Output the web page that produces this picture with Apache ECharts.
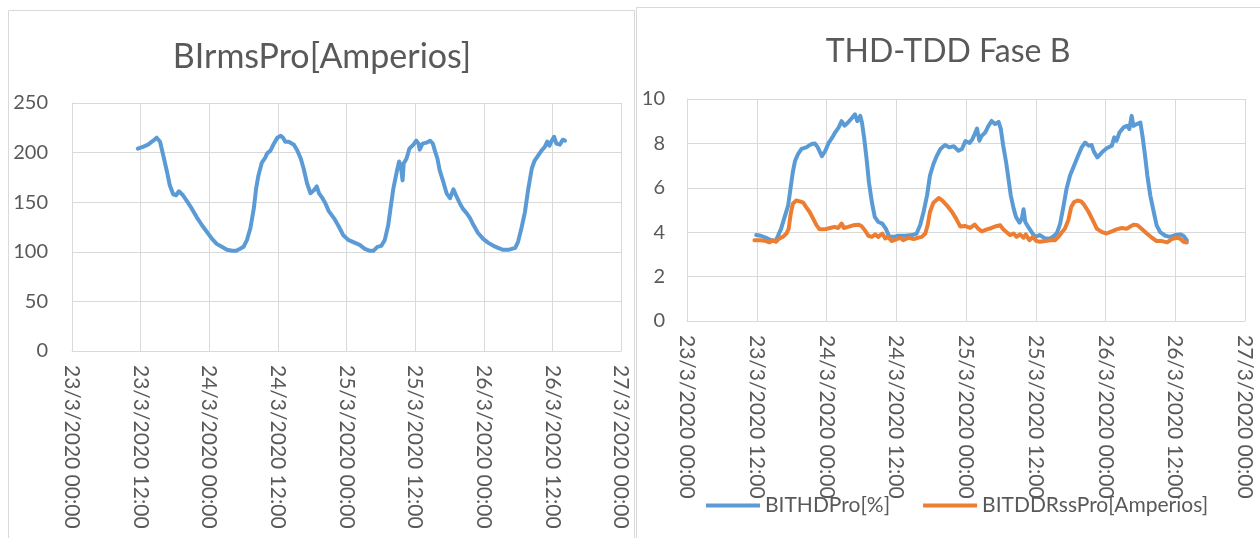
<!DOCTYPE html>
<html>
<head>
<meta charset="utf-8">
<script src="https://cdn.jsdelivr.net/npm/echarts@6/dist/echarts.min.js"></script>
<style>
  html, body { margin: 0; padding: 0; background: #ffffff; }
  #chart { width: 1260px; height: 538px; }
</style>
</head>
<body>
<div id="chart"></div>
<script>
// Tick labels for the shared time axis (one every 12 hours from 23/3/2020 00:00)
const tickLabels = [
  '23/3/2020 00:00', '23/3/2020 12:00', '24/3/2020 00:00', '24/3/2020 12:00',
  '25/3/2020 00:00', '25/3/2020 12:00', '26/3/2020 00:00', '26/3/2020 12:00',
  '27/3/2020 00:00'
];

// Phase B RMS current [A]: [hours since 23/3/2020 00:00, value]
const irmsSeries = [
  [11.5,204],[12.5,206],[13.3,208],[14.2,212],[14.8,215],[15.4,211],[16.0,196],[16.6,181],
  [17.1,167],[17.7,158],[18.2,157],[18.7,161],[19.4,157],[20.1,151],[20.9,144],[21.8,135],
  [22.7,127],[23.6,120],[24.5,113],[25.3,108],[26.2,105],[27.1,102],[28.0,101],[28.7,101],
  [29.4,103],[30.0,105],[30.6,112],[31.2,124],[31.8,144],[32.2,164],[32.6,177],[33.2,190],
  [33.8,195],[34.1,199],[34.7,202],[35.3,209],[35.9,215],[36.5,217],[36.9,215],[37.3,211],
  [37.9,211],[38.8,208],[39.4,202],[40.0,194],[40.5,184],[41.1,169],[41.7,159],[42.3,162],
  [42.8,166],[43.2,159],[43.8,154],[44.3,149],[44.9,141],[45.8,134],[46.7,125],[47.4,117],
  [48.3,112],[49.5,109],[50.3,107],[51.2,103],[52.1,101],[52.7,101],[53.4,105],[54.1,106],
  [54.7,112],[55.3,127],[55.7,144],[56.2,164],[56.8,181],[57.2,191],[57.5,187],[57.8,172],
  [58.0,189],[58.5,194],[59.0,204],[59.7,208],[60.2,212],[60.6,209],[60.8,203],[61.3,209],
  [62.0,210],[62.6,212],[63.1,209],[63.5,201],[63.9,194],[64.3,182],[64.9,171],[65.5,159],
  [66.1,154],[66.7,163],[67.3,155],[67.8,149],[68.4,143],[69.0,139],[69.6,134],[70.2,127],
  [71.0,119],[71.9,113],[72.8,109],[73.7,106],[74.5,104],[75.4,102],[76.3,102],[76.9,103],
  [77.5,104],[78.0,110],[78.6,124],[79.2,140],[79.8,164],[80.4,184],[80.9,192],[81.5,197],
  [82.1,202],[82.7,206],[83.1,211],[83.5,207],[83.9,212],[84.3,216],[84.7,209],[85.3,208],
  [85.8,213],[86.2,212]
];

// THD of phase B current [%]
const thdSeries = [
  [11.9,3.87],[12.7,3.84],[13.6,3.75],[14.5,3.64],[15.2,3.60],[15.6,3.80],[16.2,4.16],[16.8,4.69],
  [17.4,5.20],[17.8,5.96],[18.2,6.70],[18.6,7.22],[19.1,7.52],[19.7,7.75],[20.5,7.82],[21.4,7.97],
  [22.0,8.00],[22.5,7.82],[23.2,7.42],[23.8,7.67],[24.4,8.04],[25.0,8.27],[25.5,8.50],[26.1,8.72],
  [26.6,9.00],[27.1,8.80],[27.7,8.94],[28.3,9.12],[28.9,9.31],[29.3,9.00],[29.8,9.24],[30.1,8.94],
  [30.5,8.20],[30.9,7.30],[31.3,6.25],[31.8,5.36],[32.3,4.69],[32.9,4.46],[33.6,4.39],[34.2,4.16],
  [34.8,3.79],[35.5,3.79],[36.4,3.84],[37.5,3.84],[38.7,3.87],[39.5,3.94],[40.1,4.31],[40.7,4.91],
  [41.3,5.66],[41.8,6.55],[42.4,7.07],[43.0,7.45],[43.6,7.75],[44.4,7.93],[45.1,7.82],[45.9,7.87],
  [46.7,7.67],[47.3,7.75],[47.9,8.10],[48.6,8.02],[49.1,8.19],[49.5,8.42],[49.9,8.67],[50.3,8.12],
  [50.7,8.34],[51.3,8.49],[51.8,8.76],[52.4,9.01],[53.0,8.87],[53.6,8.97],[54.0,8.64],[54.4,7.90],
  [54.9,7.15],[55.3,6.42],[55.7,5.66],[56.2,5.06],[56.6,4.69],[57.2,4.43],[57.6,4.61],[57.9,5.03],
  [58.2,4.46],[58.7,4.24],[59.3,4.00],[59.9,3.79],[60.7,3.87],[61.6,3.72],[62.5,3.72],[63.2,3.84],
  [63.7,4.00],[64.2,4.39],[64.8,5.21],[65.3,5.96],[65.9,6.55],[66.6,7.00],[67.3,7.45],[67.9,7.82],
  [68.5,8.04],[69.1,7.90],[69.6,7.93],[70.0,7.63],[70.6,7.37],[71.4,7.60],[72.2,7.78],[73.1,7.90],
  [73.5,8.27],[73.9,8.12],[74.4,8.49],[75.1,8.72],[75.7,8.79],[76.1,8.64],[76.5,9.24],[76.8,8.79],
  [77.4,8.87],[78.0,8.94],[78.4,8.27],[78.8,7.45],[79.2,6.55],[79.7,5.66],[80.3,4.91],[80.8,4.31],
  [81.4,4.00],[82.3,3.84],[83.1,3.79],[84.0,3.87],[84.9,3.90],[85.4,3.84],[86.0,3.64]
];

// TDD of phase B current [A]
const tddSeries = [
  [11.6,3.64],[12.7,3.64],[13.6,3.60],[14.2,3.54],[14.8,3.64],[15.3,3.57],[15.9,3.72],[16.5,3.79],
  [17.1,3.94],[17.5,4.16],[17.8,4.76],[18.2,5.28],[18.8,5.43],[19.4,5.39],[20.0,5.33],[20.5,5.13],
  [21.1,4.91],[21.7,4.61],[22.3,4.31],[22.8,4.13],[23.7,4.13],[24.6,4.19],[25.4,4.24],[26.0,4.19],
  [26.6,4.39],[27.0,4.19],[27.7,4.24],[28.6,4.31],[29.5,4.34],[30.0,4.28],[30.6,4.09],[31.2,3.84],
  [31.8,3.79],[32.4,3.90],[32.9,3.79],[33.6,3.94],[34.1,3.72],[34.6,3.79],[35.2,3.60],[36.1,3.69],
  [36.7,3.75],[37.2,3.64],[38.1,3.75],[39.0,3.69],[39.7,3.75],[40.4,3.79],[41.0,3.94],[41.4,4.31],
  [41.8,4.91],[42.4,5.33],[43.3,5.54],[43.9,5.43],[44.7,5.21],[45.6,4.91],[46.3,4.61],[47.0,4.26],
  [47.8,4.28],[48.7,4.19],[49.5,4.34],[50.1,4.16],[50.7,4.04],[51.6,4.13],[52.4,4.19],[53.3,4.28],
  [53.9,4.31],[54.4,4.13],[55.0,4.00],[55.6,3.87],[56.2,3.94],[56.7,3.79],[57.3,3.90],[57.9,3.75],
  [58.3,3.90],[58.9,3.64],[59.5,3.79],[60.1,3.60],[60.7,3.57],[61.6,3.60],[62.5,3.64],[63.3,3.64],
  [63.9,3.79],[64.5,4.00],[65.0,4.16],[65.6,4.54],[66.1,5.13],[66.6,5.36],[67.2,5.43],[67.8,5.39],
  [68.3,5.24],[69.1,4.91],[69.8,4.54],[70.5,4.16],[71.4,4.00],[72.2,3.94],[73.1,4.04],[73.9,4.13],
  [74.8,4.19],[75.7,4.16],[76.4,4.28],[76.9,4.34],[77.5,4.31],[78.3,4.13],[79.1,3.94],[80.0,3.75],
  [80.8,3.60],[81.7,3.60],[82.6,3.54],[83.4,3.69],[84.2,3.75],[84.8,3.72],[85.4,3.57],[86.0,3.54]
];

const TEXT = '#595959';
const GRID = '#D9D9D9';
const FONT = 'Lato';

function timeAxis(gridIndex) {
  return {
    type: 'value', gridIndex: gridIndex, min: 0, max: 96, interval: 12,
    axisLine: { show: true, lineStyle: { color: GRID, width: 1 } },
    axisTick: { show: false },
    splitLine: { show: true, lineStyle: { color: GRID, width: 1 } },
    axisLabel: {
      rotate: -90, margin: 14, color: TEXT, fontSize: 21, fontFamily: FONT,
      formatter: function (v) { return tickLabels[Math.round(v / 12)]; }
    }
  };
}

function valueAxis(gridIndex, max, interval, margin) {
  return {
    type: 'value', gridIndex: gridIndex, min: 0, max: max, interval: interval,
    axisLine: { show: true, lineStyle: { color: GRID, width: 1 } },
    axisTick: { show: false },
    splitLine: { show: true, lineStyle: { color: GRID, width: 1 } },
    axisLabel: { margin: margin, color: TEXT, fontSize: 20, fontFamily: FONT }
  };
}

function lineSeries(name, data, color, xi) {
  return {
    name: name, type: 'line', data: data, xAxisIndex: xi, yAxisIndex: xi,
    showSymbol: false, symbol: 'none', smooth: false,
    lineStyle: { color: color, width: 4, cap: 'round', join: 'round' },
    itemStyle: { color: color },
    emphasis: { disabled: true }
  };
}

const chart = echarts.init(document.getElementById('chart'), null, { renderer: 'canvas' });

chart.setOption({
  animation: false,
  backgroundColor: '#ffffff',
  textStyle: { fontFamily: FONT, color: TEXT },
  graphic: [
    { type: 'rect', z: -1, shape: { x: 8.5, y: 10.5, width: 626, height: 540 },
      style: { fill: 'none', stroke: GRID, lineWidth: 1 } },
    { type: 'rect', z: -1, shape: { x: 636.5, y: 7.5, width: 630, height: 545 },
      style: { fill: '#ffffff', stroke: GRID, lineWidth: 1 } },
    { type: 'text', x: 322, y: 57,
      style: { text: 'BIrmsPro[Amperios]', fill: TEXT, font: '34px Lato',
               textAlign: 'center', textVerticalAlign: 'middle' } },
    { type: 'text', x: 948, y: 52,
      style: { text: 'THD-TDD Fase B', fill: TEXT, font: '32px Lato',
               textAlign: 'center', textVerticalAlign: 'middle' } }
  ],
  grid: [
    { left: 72, top: 103, width: 549, height: 248, containLabel: false },
    { left: 687, top: 99, width: 558, height: 222, containLabel: false }
  ],
  xAxis: [timeAxis(0), timeAxis(1)],
  yAxis: [valueAxis(0, 250, 50, 24), valueAxis(1, 10, 2, 22)],
  legend: {
    data: ['BITHDPro[%]', 'BITDDRssPro[Amperios]'],
    left: 701, top: 490,
    icon: 'rect', itemWidth: 54, itemHeight: 4, itemGap: 33,
    textStyle: { color: TEXT, fontSize: 21, fontFamily: FONT },
    selectedMode: false
  },
  series: [
    lineSeries('BIrmsPro[Amperios]', irmsSeries, '#5B9BD5', 0),
    lineSeries('BITHDPro[%]', thdSeries, '#5B9BD5', 1),
    lineSeries('BITDDRssPro[Amperios]', tddSeries, '#ED7D31', 1)
  ]
});
</script>
</body>
</html>
